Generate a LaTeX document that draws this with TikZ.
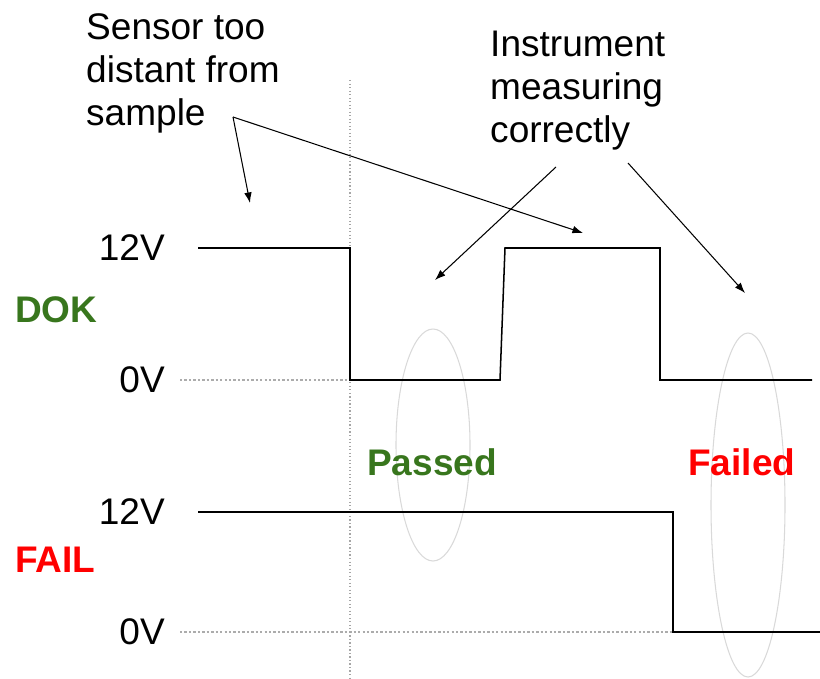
\documentclass[tikz,border=0pt]{standalone}
\usepackage{fontspec}
\setmainfont{Liberation Sans}
\usetikzlibrary{arrows.meta, positioning, shapes.geometric}
\definecolor{okgreen}{HTML}{38761D}
\definecolor{failred}{HTML}{FF0000}

\begin{document}
\begin{tikzpicture}[
        x=0.03cm, y=-0.03cm,
        every node/.style={font=\fontsize{31.6}{36.7}\selectfont, inner sep=0pt},
        level/.style={anchor=east},
        signame/.style={anchor=west, font=\fontsize{31.6}{36.7}\selectfont\bfseries},
        note/.style={align=left, anchor=north west},
        wave/.style={draw, line width=1.3pt, line join=miter},
        guide/.style={draw=gray!65, line width=1pt, dash pattern=on 2pt off 1.8pt},
        window/.style={draw=gray!30, line width=0.9pt, ellipse, minimum width=2.22cm},
        pointer/.style={draw, line width=0.9pt, -{Latex[length=9pt, width=6.5pt]}}
    ]
        \useasboundingbox (0,0) rectangle (820,679);

        % Windows
        \node[window, minimum height=6.96cm] (passwin) at (433,445) {};
        \node[window, minimum height=10.32cm] (failwin) at (748,505) {};

        % Guides
        \draw[guide] (180,380) -- (350,380);
        \draw[guide] (180,632) -- (673,632);
        \draw[draw=gray!70, line width=1pt, dotted] (350,80) -- (350,679);

        % Signals
        \draw[wave] (198,248) -- (350,248) -- (350,380) -- (500,380) -- (505,248)
            -- (660,248) -- (660,380) -- (812,380);
        \draw[wave] (198,512) -- (673,512) -- (673,632) -- (820,632);

        % Levels
        \node[level] (dokhigh) at (165,248) {12V};
        \node[level] (doklow) at (165,380) {0V};
        \node[level] (failhigh) at (165,512) {12V};
        \node[level] (faillow) at (165,632) {0V};
        \node[signame, text=okgreen] (dok) at (15,310) {DOK};
        \node[signame, text=failred] (fail) at (15,560) {FAIL};

        % Results
        \node[signame, text=okgreen] (passed) at (367,462) {Passed};
        \node[signame, text=failred] (failed) at (688,462) {Failed};

        % Notes
        \node[note] (sensor) at (86,13) {Sensor too\\distant from\\sample};
        \node[note] (instr) at (490,31) {Instrument\\measuring\\correctly};

        \coordinate (sfork) at (233,117);
        \coordinate (early) at (250,203);
        \coordinate (late) at (583,233);
        \coordinate (ileft) at (556,167);
        \coordinate (iright) at (628,163);
        \coordinate (passtip) at (435,280);
        \coordinate (failtip) at (745,293);

        \draw[pointer] (sfork) -- (early);
        \draw[pointer] (sfork) -- (late);
        \draw[pointer] (ileft) -- (passtip);
        \draw[pointer] (iright) -- (failtip);
    \end{tikzpicture}
\end{document}
